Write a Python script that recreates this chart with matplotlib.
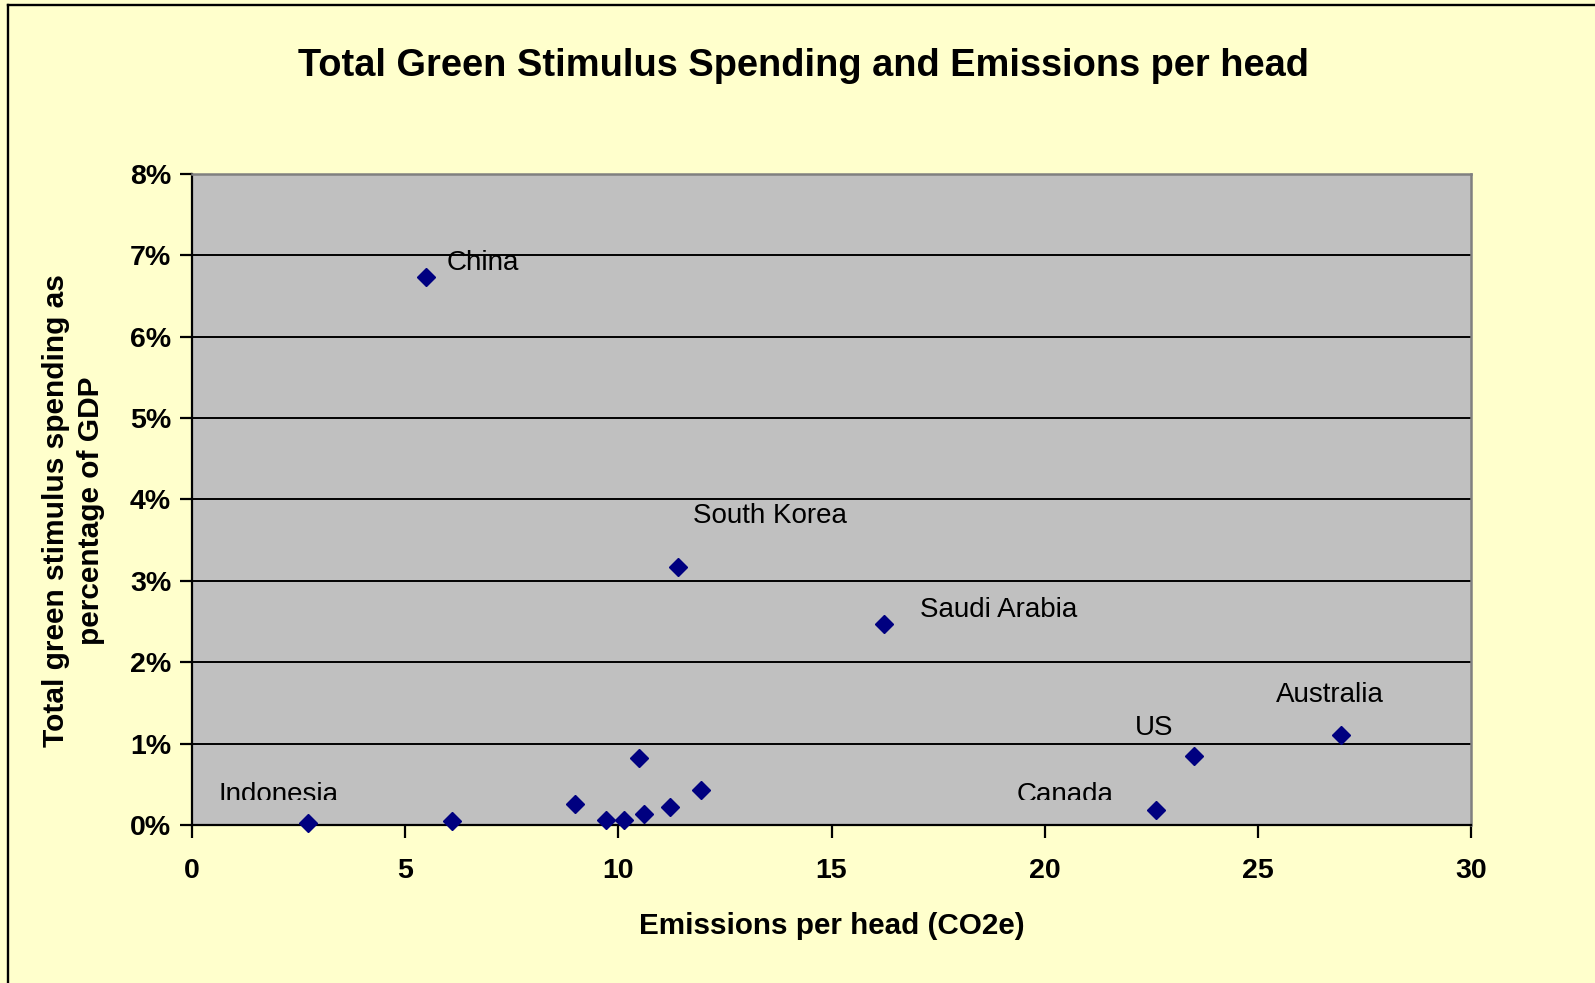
import matplotlib.pyplot as plt
from matplotlib.lines import Line2D
from matplotlib.ticker import PercentFormatter, MultipleLocator
from matplotlib.transforms import Bbox, TransformedBbox

plt.rcParams['font.family'] = ['Liberation Sans', 'DejaVu Sans']

# emissions per head (t CO2e) and green stimulus as share of GDP
countries = ["Indonesia", "", "", "", "", "", "", "", "",
             "China", "South Korea", "Saudi Arabia", "Canada", "US", "Australia"]
emissions = [2.73, 6.11, 8.98, 9.71, 10.13, 10.49, 10.61, 11.21, 11.94,
             5.48, 11.39, 16.22, 22.61, 23.51, 26.95]
green_share = [0.0003, 0.0005, 0.0026, 0.0006, 0.0006, 0.0082, 0.0013, 0.0022, 0.0043,
               0.0674, 0.0317, 0.0247, 0.0019, 0.0085, 0.0111]

# label offsets in pixels (dx to left edge, dy up to baseline)
label_offsets = {
    "China": (21, 6.5), "South Korea": (15, 44), "Saudi Arabia": (36, 7),
    "Australia": (-65, 33), "US": (-59, 21), "Canada": (-139, 8),
    "Indonesia": (-90, 21),
}

W, H = 1595, 983
fig = plt.figure(figsize=(W / 100, H / 100), dpi=100, facecolor='#FFFFCC')

# outer chart frame (only top and left edges visible)
fig.add_artist(Line2D([8 / W, 8 / W], [0, 1 - 4.5 / H], color='black', lw=1.7,
                      transform=fig.transFigure))
fig.add_artist(Line2D([8 / W, 1], [1 - 4.5 / H, 1 - 4.5 / H], color='black', lw=1.7,
                      transform=fig.transFigure))

ax = fig.add_axes([192 / W, (H - 825) / H, (1471 - 192) / W, (825 - 174) / H])
ax.set_facecolor('#C0C0C0')
ax.set_xlim(0, 30)
ax.set_ylim(0, 0.08)
ax.xaxis.set_major_locator(MultipleLocator(5))
ax.yaxis.set_major_locator(MultipleLocator(0.01))
ax.yaxis.set_major_formatter(PercentFormatter(xmax=1, decimals=0))

ax.grid(axis='y', color='black', lw=1.4)
ax.set_axisbelow(True)
for side in ['left', 'bottom']:
    ax.spines[side].set_linewidth(1.6)
    ax.spines[side].set_color('black')
for side in ['top', 'right']:
    ax.spines[side].set_linewidth(1.8)
    ax.spines[side].set_color('#808080')

ax.tick_params(axis='both', direction='out', length=9, width=1.6, labelsize=20.5, pad=6)
for lab in ax.get_xticklabels() + ax.get_yticklabels():
    lab.set_fontweight('bold')
ax.tick_params(axis='x', pad=15)

ax.plot(emissions, green_share, linestyle='none', marker='D', ms=8.7,
        color='#000080', clip_on=False, zorder=3)

# labels that run into the bottom row get cut off
cut = TransformedBbox(Bbox([[-5, 0.0031], [35, 0.09]]), ax.transData)
for name, x, y in zip(countries, emissions, green_share):
    if not name:
        continue
    dx, dy = label_offsets[name]
    t = ax.annotate(name, (x, y), xytext=(dx * 0.72, dy * 0.72),
                    textcoords='offset points', ha='left', va='baseline',
                    fontsize=20, color='black')
    t.set_clip_box(cut)
    t.set_clip_on(True)

ax.set_xlabel("Emissions per head (CO2e)", fontsize=21.3, fontweight='bold', labelpad=20)
fig.text(73.5 / W, 1 - 511 / H, "Total green stimulus spending as\npercentage of GDP",
         rotation=90, ha='center', va='center', multialignment='center',
         fontsize=21.5, fontweight='bold', linespacing=1.36)

fig.text(803 / W, 1 - 66 / H, "Total Green Stimulus Spending and Emissions per head",
         ha='center', va='center', fontsize=27.4, fontweight='bold')

fig.savefig("out.png", dpi=100, facecolor=fig.get_facecolor())
